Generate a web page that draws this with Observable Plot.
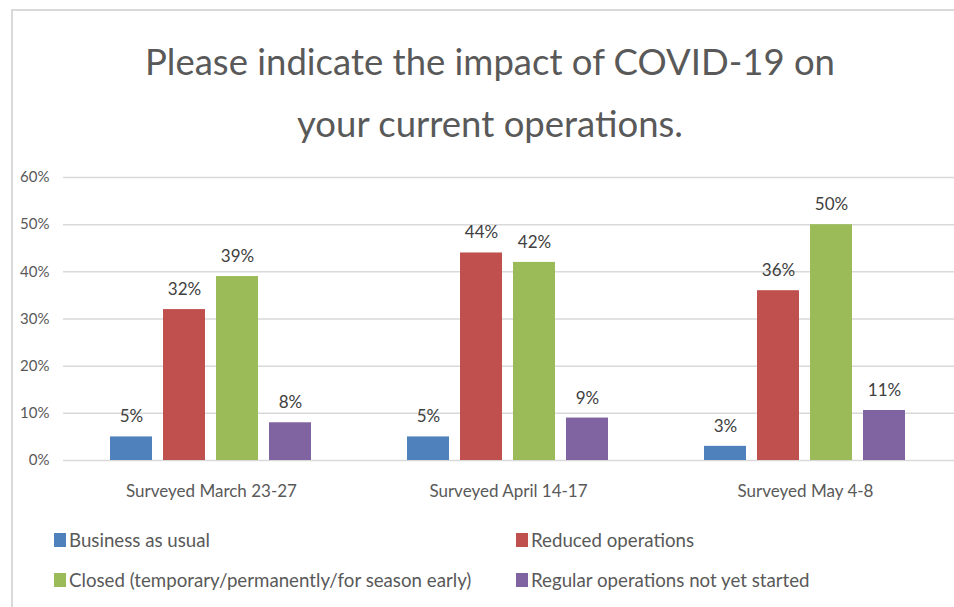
<!DOCTYPE html>
<html>
<head>
<meta charset="utf-8">
<script src="https://cdn.jsdelivr.net/npm/d3@7"></script>
<script src="https://cdn.jsdelivr.net/npm/@observablehq/plot@0.6"></script>
<style>
  body { margin: 0; background: #fff; font-family: Lato, sans-serif; }
  #wrap { position: relative; width: 954px; height: 607px; overflow: hidden; background: #fff; }
  #frame { position: absolute; left: 11px; top: 9px; right: -10px; bottom: -10px;
           border-top: 2px solid #d9d9d9; border-left: 2px solid #d9d9d9; }
  #title { position: absolute; left: 90px; width: 800px; top: 30px; text-align: center;
           font-size: 36.5px; line-height: 62px; color: #595959; }
  .plot { position: absolute; left: 0; top: 150px; }
  .leg { position: absolute; font-size: 18.7px; color: #595959; line-height: 20px; white-space: nowrap; }
  .leg span.sw { position: absolute; left: 0; top: 3px; width: 12px; height: 14px; }
  .leg span.lb { position: absolute; left: 15px; top: 0; }
</style>
</head>
<body>
<div id="wrap">
  <div id="frame"></div>
  <div id="title">Please indicate the impact of COVID-19 on<br>your current operations.</div>
</div>
<script>
const periods = ["Surveyed March 23-27", "Surveyed April 14-17", "Surveyed May 4-8"];
const seriesNames = [
  "Business as usual",
  "Reduced operations",
  "Closed (temporary/permanently/for season early)",
  "Regular operations not yet started"
];
const seriesColors = ["#4f81bd", "#c0504d", "#9bbb59", "#8064a2"];
const businessAsUsual = [5, 5, 3];
const reducedOperations = [32, 44, 36];
const closed = [39, 42, 50];
const notYetStarted = [8, 9, 10.6];
const yTicks = [0, 10, 20, 30, 40, 50, 60];

const seriesValues = [businessAsUsual, reducedOperations, closed, notYetStarted];
const rows = [];
periods.forEach((p, i) => {
  seriesNames.forEach((s, j) => rows.push({ period: p, series: s, value: seriesValues[j][i] }));
});

const common = {
  width: 954, height: 360,
  marginLeft: 63, marginRight: 0, marginTop: 27, marginBottom: 50,
  style: { background: "transparent", color: "#595959", fontFamily: "Lato, sans-serif" }
};

const wrap = document.getElementById("wrap");

const back = Plot.plot({
  ...common,
  x: { domain: [0, 1], axis: null },
  y: { domain: [0, 60], axis: null },
  marks: [
    Plot.ruleY(yTicks, { stroke: "#d9d9d9", strokeWidth: 1.5 }),
    Plot.axisY(yTicks, { tickSize: 0, tickPadding: 14, tickFormat: d => d + "%", fontSize: 15, label: null })
  ]
});
back.classList.add("plot");
wrap.appendChild(back);

const front = Plot.plot({
  ...common,
  fx: { domain: periods, paddingInner: 0.3125, paddingOuter: 0.15625 },
  x: { domain: seriesNames, paddingInner: 0.2, paddingOuter: 0, axis: null },
  y: { domain: [0, 60], axis: null },
  color: { domain: seriesNames, range: seriesColors },
  marks: [
    Plot.barY(rows, { fx: "period", x: "series", y: "value", fill: "series" }),
    Plot.text(rows, { fx: "period", x: "series", y: "value", text: d => Math.round(d.value) + "%",
                      dy: -20, fontSize: 17, fill: "#404040" }),
    Plot.axisFx({ anchor: "bottom", tickSize: 0, tickPadding: 24, fontSize: 17, label: null })
  ]
});
front.classList.add("plot");
wrap.appendChild(front);

// legend (2 columns x 2 rows)
const legPos = [[54, 530], [516, 530], [54, 570], [516, 570]];
seriesNames.forEach((s, i) => {
  const d = document.createElement("div");
  d.className = "leg";
  d.style.left = legPos[i][0] + "px";
  d.style.top = legPos[i][1] + "px";
  const sw = document.createElement("span");
  sw.className = "sw";
  sw.style.background = seriesColors[i];
  const lb = document.createElement("span");
  lb.className = "lb";
  lb.textContent = s;
  d.appendChild(sw); d.appendChild(lb);
  wrap.appendChild(d);
});
</script>
</body>
</html>
